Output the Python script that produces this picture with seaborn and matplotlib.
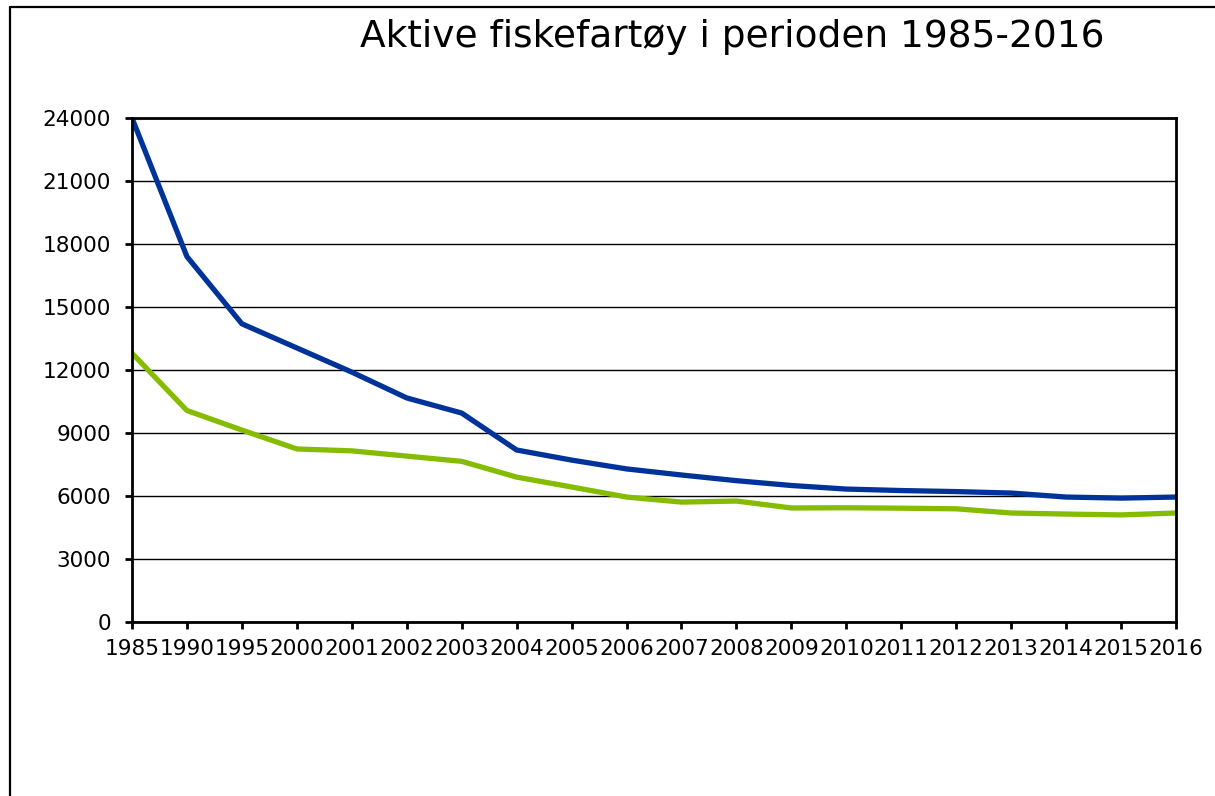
import matplotlib
matplotlib.use("Agg")
import matplotlib.pyplot as plt
import seaborn as sns
import pandas as pd
from matplotlib.lines import Line2D

years = ["1985", "1990", "1995", "2000", "2001", "2002", "2003", "2004", "2005", "2006",
         "2007", "2008", "2009", "2010", "2011", "2012", "2013", "2014", "2015", "2016"]
blue_values = [24000, 17400, 14200, 13050, 11900, 10670, 9950, 8190, 7710, 7290,
               7000, 6730, 6500, 6330, 6260, 6210, 6140, 5950, 5900, 5950]
green_values = [12800, 10070, 9140, 8240, 8150, 7900, 7650, 6900, 6430, 5950,
                5710, 5760, 5430, 5440, 5420, 5390, 5190, 5140, 5100, 5190]
series_names = ["Serie 1", "Serie 2"]
colors = ["#003399", "#85BC00"]
title = "Aktive fiskefartøy i perioden 1985-2016"
yticks = [0, 3000, 6000, 9000, 12000, 15000, 18000, 21000, 24000]

df = pd.DataFrame({
    "year": years * 2,
    "value": blue_values + green_values,
    "series": [series_names[0]] * len(years) + [series_names[1]] * len(years),
})

sns.set_theme(style="white")
plt.rcParams["font.family"] = ["DejaVu Sans"]

W, H = 1215, 796
fig = plt.figure(figsize=(W / 100, H / 100), dpi=100)
ax = fig.add_axes([132 / W, 1 - 622 / H, (1176 - 132) / W, (622 - 118) / H])

sns.lineplot(data=df, x="year", y="value", hue="series", palette=colors,
             linewidth=3.8, legend=False, ax=ax, sort=False)

ax.set_xlim(0, len(years) - 1)
ax.set_ylim(0, 24000)
ax.set_yticks(yticks)
ax.set_yticklabels([str(v) for v in yticks])
ax.set_xlabel("")
ax.set_ylabel("")
ax.grid(axis="y", color="black", linewidth=1.0)
ax.set_axisbelow(True)
for s in ax.spines.values():
    s.set_color("black")
    s.set_linewidth(2.0)
ax.tick_params(axis="y", direction="out", length=5, width=2, color="black",
               labelsize=15.6, pad=10, left=True, labelcolor="black")
ax.tick_params(axis="x", direction="out", length=5, width=2, color="black",
               labelsize=15.6, pad=7, bottom=True, labelcolor="black")

fig.text(732 / W, 1 - 37 / H, title, ha="center", va="center", fontsize=27, color="black")

# outer chart frame (left and top edges visible)
fig.add_artist(Line2D([9.5 / W, 9.5 / W], [-0.05, 1 - 7 / H], transform=fig.transFigure,
                      color="black", linewidth=1.6))
fig.add_artist(Line2D([9.5 / W, 1.05], [1 - 7 / H, 1 - 7 / H], transform=fig.transFigure,
                      color="black", linewidth=1.6))

fig.savefig("out.png", dpi=100, facecolor="white")
